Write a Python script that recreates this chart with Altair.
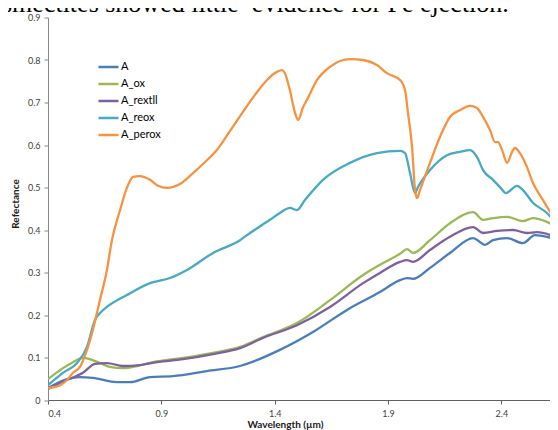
import altair as alt
import pandas as pd

# ---- data ----
series_names = ["A", "A_ox", "A_rextll", "A_reox", "A_perox"]
series_colors = ["#4A7EBB", "#98B954", "#7D60A0", "#46AAC5", "#F69240"]

wl_A = [0.400, 0.484, 0.541, 0.598, 0.704, 0.762, 0.850, 0.951, 1.101, 1.247, 1.423, 1.569, 1.719,
        1.864, 1.953, 1.984, 2.010, 2.085, 2.173, 2.275, 2.328, 2.363, 2.425, 2.495, 2.548, 2.601, 2.650]
refl_A = [0.028, 0.049, 0.054, 0.052, 0.042, 0.042, 0.054, 0.056, 0.068, 0.080, 0.118, 0.160, 0.212,
          0.254, 0.282, 0.287, 0.285, 0.311, 0.346, 0.381, 0.365, 0.376, 0.381, 0.369, 0.388, 0.384, 0.376]

wl_ox = [0.400, 0.466, 0.510, 0.554, 0.585, 0.629, 0.673, 0.731, 0.793, 0.863, 0.996, 1.128, 1.247, 1.348,
         1.498, 1.644, 1.790, 1.864, 1.953, 1.984, 2.010, 2.085, 2.173, 2.275, 2.319, 2.363, 2.425, 2.495,
         2.539, 2.601, 2.650]
refl_ox = [0.049, 0.075, 0.089, 0.099, 0.096, 0.087, 0.078, 0.075, 0.080, 0.089, 0.099, 0.111, 0.125, 0.148,
           0.181, 0.235, 0.294, 0.318, 0.344, 0.355, 0.346, 0.376, 0.416, 0.442, 0.424, 0.428, 0.431, 0.421,
           0.428, 0.419, 0.405]

wl_rextll = [0.400, 0.484, 0.554, 0.607, 0.660, 0.731, 0.806, 0.881, 0.996, 1.128, 1.247, 1.348, 1.498,
             1.644, 1.790, 1.864, 1.953, 1.984, 2.010, 2.085, 2.173, 2.275, 2.319, 2.381, 2.451, 2.513,
             2.557, 2.650]
refl_rextll = [0.026, 0.047, 0.064, 0.085, 0.087, 0.080, 0.082, 0.089, 0.096, 0.108, 0.122, 0.146, 0.176,
               0.219, 0.275, 0.299, 0.325, 0.329, 0.325, 0.353, 0.384, 0.407, 0.393, 0.398, 0.400, 0.393,
               0.395, 0.381]

wl_reox = [0.400, 0.466, 0.528, 0.572, 0.607, 0.634, 0.660, 0.748, 0.850, 0.938, 1.013, 1.128, 1.247, 1.278,
           1.379, 1.423, 1.467, 1.498, 1.534, 1.613, 1.732, 1.851, 1.953, 1.975, 1.997, 2.019, 2.032, 2.085,
           2.160, 2.217, 2.262, 2.292, 2.319, 2.363, 2.394, 2.420, 2.469, 2.495, 2.539, 2.601, 2.628, 2.650]
refl_reox = [0.035, 0.064, 0.087, 0.125, 0.188, 0.207, 0.219, 0.247, 0.275, 0.287, 0.306, 0.346, 0.376, 0.388,
             0.424, 0.440, 0.452, 0.447, 0.471, 0.518, 0.558, 0.581, 0.586, 0.581, 0.534, 0.487, 0.501, 0.541,
             0.576, 0.584, 0.588, 0.572, 0.541, 0.518, 0.501, 0.487, 0.504, 0.494, 0.464, 0.440, 0.424, 0.407]

wl_perox = [0.400, 0.453, 0.484, 0.510, 0.541, 0.572, 0.598, 0.629, 0.660, 0.682, 0.718, 0.748, 0.775, 0.806,
            0.850, 0.885, 0.925, 0.982, 1.040, 1.093, 1.145, 1.203, 1.260, 1.313, 1.366, 1.410, 1.432, 1.445,
            1.467, 1.490, 1.503, 1.525, 1.542, 1.587, 1.644, 1.732, 1.790, 1.851, 1.895, 1.953, 1.975, 1.988,
            2.006, 2.019, 2.028, 2.041, 2.085, 2.129, 2.173, 2.217, 2.262, 2.292, 2.319, 2.350, 2.372, 2.385,
            2.403, 2.425, 2.447, 2.460, 2.482, 2.513, 2.539, 2.583, 2.628, 2.650]
refl_perox = [0.028, 0.035, 0.047, 0.064, 0.078, 0.118, 0.165, 0.235, 0.306, 0.376, 0.447, 0.499, 0.525, 0.527,
              0.518, 0.504, 0.499, 0.508, 0.534, 0.560, 0.588, 0.633, 0.678, 0.718, 0.753, 0.772, 0.776, 0.769,
              0.729, 0.675, 0.659, 0.689, 0.706, 0.753, 0.784, 0.802, 0.800, 0.788, 0.769, 0.753, 0.729, 0.675,
              0.595, 0.494, 0.475, 0.494, 0.558, 0.619, 0.666, 0.682, 0.692, 0.687, 0.666, 0.635, 0.607, 0.607,
              0.588, 0.558, 0.584, 0.593, 0.581, 0.548, 0.511, 0.471, 0.431, 0.412]

x_ticks = [0.4, 0.9, 1.4, 1.9, 2.4]
y_ticks = [0, 0.1, 0.2, 0.3, 0.4, 0.5, 0.6, 0.7, 0.8, 0.9]
caption_text = ["smectites showed little\u00a0 evidence for Fe ejection."]

# ---- build long table ----
rows = []
for name, wl, rf in [("A", wl_A, refl_A), ("A_ox", wl_ox, refl_ox), ("A_rextll", wl_rextll, refl_rextll),
                     ("A_reox", wl_reox, refl_reox), ("A_perox", wl_perox, refl_perox)]:
    for i, (w, r) in enumerate(zip(wl, rf)):
        rows.append({"series": name, "wavelength": w, "reflectance": r, "order": i})
df = pd.DataFrame(rows)

lines = alt.Chart(df).mark_line(strokeWidth=2.3, interpolate="monotone", clip=True).encode(
    x=alt.X("wavelength:Q",
            scale=alt.Scale(domain=[0.4, 2.6144], nice=False, zero=False),
            axis=alt.Axis(values=x_ticks, format=".1f", title="Wavelength (\u00b5m)",
                          titleX=237, titleY=24, titleBaseline="middle", titleAnchor="start",
                          titleAlign="center",
                          labelPadding=5, tickSize=4, domainColor="#606060", tickColor="#606060")),
    y=alt.Y("reflectance:Q",
            scale=alt.Scale(domain=[0, 0.9], nice=False),
            axis=alt.Axis(values=y_ticks, format=".1~f", title="Refectance",
                          titleX=-33, titleY=186, titleAngle=270, titleAlign="center",
                          titleBaseline="middle", titleAnchor="start",
                          labelPadding=4, tickSize=4, domainColor="#868686", tickColor="#868686")),
    color=alt.Color("series:N",
                    scale=alt.Scale(domain=series_names, range=series_colors),
                    sort=series_names,
                    legend=alt.Legend(title=None, orient="none", legendX=49, legendY=38,
                                      symbolType="stroke", symbolSize=400, symbolStrokeWidth=2.5,
                                      rowPadding=-1.5, padding=0, labelOffset=1,
                                      labelFont="Lato", labelFontSize=11, labelColor="#000000")),
    order="order:Q",
)

caption = alt.Chart(pd.DataFrame({"t": caption_text})).mark_text(
    align="left", baseline="alphabetic", font="Liberation Serif", fontSize=26, color="#000000"
).encode(text="t:N", x=alt.value(-46), y=alt.value(-5.5))

chart = alt.layer(lines, caption).properties(
    width=502, height=382.5,
    autosize=alt.AutoSizeParams(type="none"),
    padding={"left": 40, "top": 9.5, "right": 0, "bottom": 30},
).configure_view(stroke=None).configure_axis(
    grid=False, labelFont="Lato", labelFontSize=9, labelColor="#404040",
    titleFont="Lato", titleFontSize=10, titleFontWeight="bold", titleColor="#202020",
)

chart.save("out.html", embed_options={"renderer": "svg", "actions": False})
